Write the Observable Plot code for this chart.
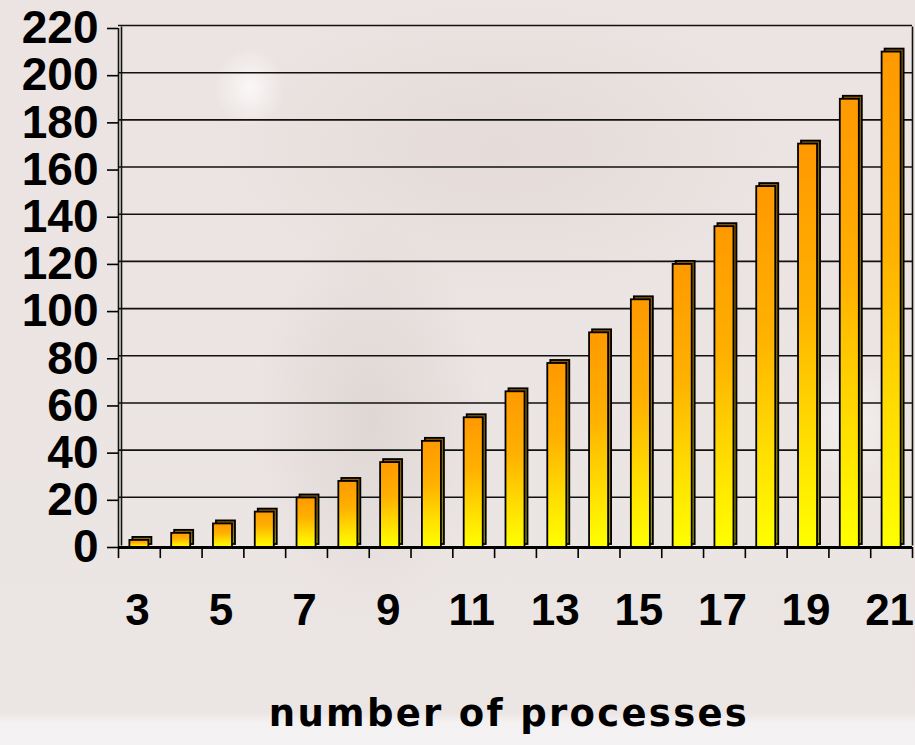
<!DOCTYPE html>
<html>
<head>
<meta charset="utf-8">
<script src="https://cdn.jsdelivr.net/npm/d3@7"></script>
<script src="https://cdn.jsdelivr.net/npm/@observablehq/plot@0.6"></script>
<style>
  html, body { margin: 0; padding: 0; }
  body {
    width: 915px; height: 745px; overflow: hidden; position: relative;
    background:
      radial-gradient(ellipse 35px 40px at 250px 88px, rgba(255,255,255,0.75), rgba(255,255,255,0) 100%),
      radial-gradient(ellipse 50px 60px at 850px 420px, rgba(255,255,255,0.45), rgba(255,255,255,0) 100%),
      radial-gradient(ellipse 120px 200px at 370px 420px, rgba(120,95,85,0.10), rgba(120,95,85,0) 100%),
      radial-gradient(ellipse 300px 160px at 500px 150px, rgba(150,110,90,0.08), rgba(150,110,90,0) 100%),
      linear-gradient(to bottom, #ebe4e2 0px, #ebe5e3 712px, #f3f1f1 722px, #f4f2f2 745px);
  }
  #chart { position: absolute; left: 0; top: 0; }
  #title {
    position: absolute; top: 692px; left: 509px; transform: translateX(-50%);
    font-family: "DejaVu Sans", sans-serif; font-weight: bold; font-size: 37px;
    letter-spacing: 2.3px; white-space: nowrap; color: #000;
  }
</style>
</head>
<body>
<div id="chart"></div>
<div id="title">number of processes</div>
<script>
const categories = [3, 4, 5, 6, 7, 8, 9, 10, 11, 12, 13, 14, 15, 16, 17, 18, 19, 20, 21];
const values = [3, 6, 10, 15, 21, 28, 36, 45, 55, 66, 78, 91, 105, 120, 136, 153, 171, 190, 210];
const yTicks = [0, 20, 40, 60, 80, 100, 120, 140, 160, 180, 200, 220];
const xTickLabels = [3, 5, 7, 9, 11, 13, 15, 17, 19, 21];

const data = categories.map((n, i) => ({n, v: values[i]}));

const W = 915, H = 650, ML = 118, MR = 3, MT = 28, MB = 103;
const bw = (W - ML - MR) / categories.length;

function defs() {
  const ns = "http://www.w3.org/2000/svg";
  const d = document.createElementNS(ns, "defs");
  function grad(id, stops) {
    const g = document.createElementNS(ns, "linearGradient");
    g.setAttribute("id", id);
    g.setAttribute("x1", "0"); g.setAttribute("y1", "0");
    g.setAttribute("x2", "0"); g.setAttribute("y2", "1");
    for (const [o, c] of stops) {
      const s = document.createElementNS(ns, "stop");
      s.setAttribute("offset", o); s.setAttribute("stop-color", c);
      g.appendChild(s);
    }
    d.appendChild(g);
  }
  grad("front", [["0", "#ff9900"], ["0.4", "#ffb000"], ["0.75", "#ffe000"], ["1", "#ffff00"]]);
  grad("side", [["0", "#8a5a00"], ["1", "#999900"]]);
  return d;
}

const chart = Plot.plot({
  width: W, height: H,
  marginLeft: ML, marginRight: MR, marginTop: MT, marginBottom: MB,
  style: {background: "transparent", fontFamily: "'Liberation Sans', Arial, sans-serif", fontWeight: "bold", color: "#000", overflow: "visible"},
  x: {type: "band", domain: categories, paddingInner: 0.545, paddingOuter: 0.2725, round: false},
  y: {domain: [0, 220]},
  marks: [
    defs,
    Plot.ruleY(yTicks.filter(d => d > 0), {stroke: "#111", strokeWidth: 1.6, dy: -3}),
    Plot.ruleX([categories[0]], {y1: 0, y2: 220, dx: -bw / 2 + 3, dy: -1.5, stroke: "#111", strokeWidth: 1.6}),
    Plot.ruleX([categories[0]], {y1: 0, y2: 220, dx: -bw / 2, stroke: "#111", strokeWidth: 1.6}),
    Plot.ruleX([categories[categories.length - 1]], {y1: 0, y2: 220, dx: bw / 2, dy: -1.5, stroke: "#111", strokeWidth: 1.6}),
    Plot.barY(data, {x: "n", y: "v", fill: "url(#side)", stroke: "#000", strokeWidth: 1.8, dx: 3, dy: -3}),
    Plot.barY(data, {x: "n", y: "v", fill: "url(#front)", stroke: "#000", strokeWidth: 1.8}),
    Plot.ruleY([0], {stroke: "#000", strokeWidth: 3}),
    Plot.ruleX(categories, {y1: 0, y2: -4.7, dx: -bw / 2, stroke: "#000", strokeWidth: 1.6}),
    Plot.ruleX([categories[categories.length - 1]], {y1: 0, y2: -4.7, dx: bw / 2, stroke: "#000", strokeWidth: 1.6}),
    Plot.axisY({ticks: yTicks, tickSize: 11, tickPadding: 9, fontSize: 46, tickFormat: d => String(d), label: null, strokeWidth: 1.6, stroke: "#000"}),
    Plot.axisX({ticks: xTickLabels, tickSize: 0, tickPadding: 46, fontSize: 44, dx: -2, tickFormat: d => String(d), label: null})
  ]
});
document.getElementById("chart").appendChild(chart);
</script>
</body>
</html>
